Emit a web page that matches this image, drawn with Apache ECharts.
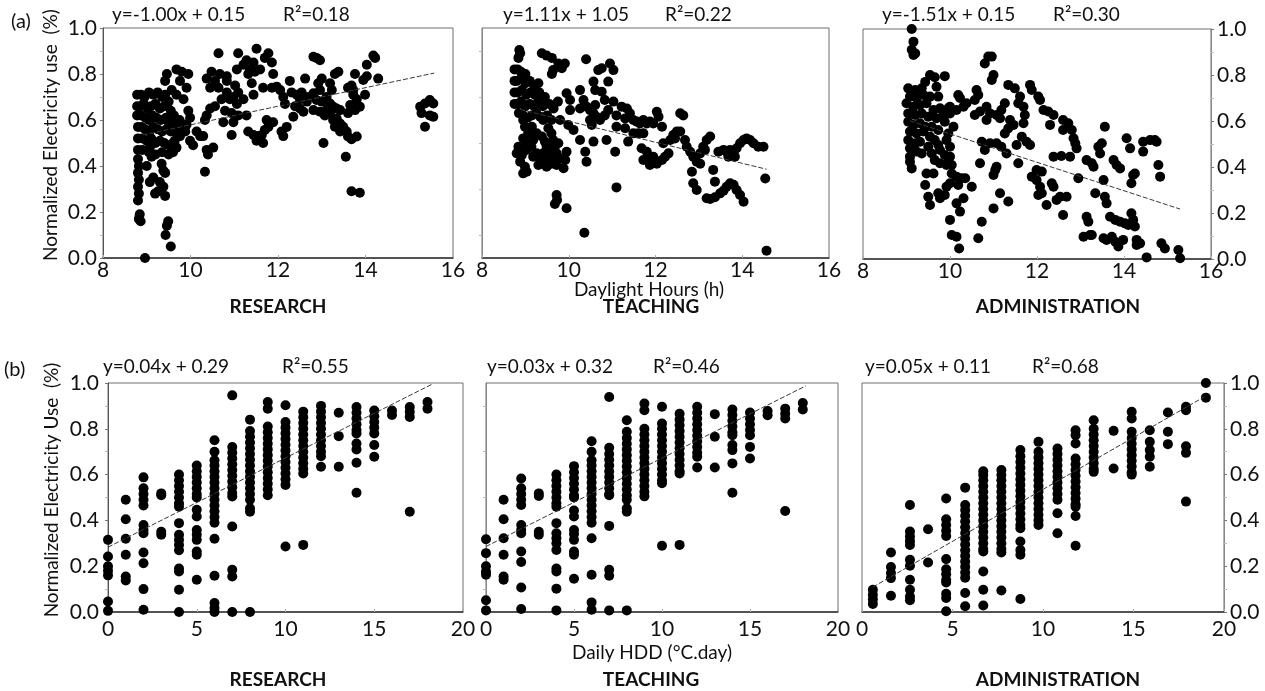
<!DOCTYPE html>
<html>
<head>
<meta charset="utf-8">
<title>Normalized electricity use</title>
<script src="https://cdn.jsdelivr.net/npm/echarts@6/dist/echarts.min.js"></script>
<style>
  html, body { margin: 0; padding: 0; background: #fff; }
  #chart { width: 1265px; height: 691px; }
</style>
</head>
<body>
<div id="chart"></div>
<script>
/**
 * SCATTER: NORMALIZED ELECTRICITY USE vs DAYLIGHT HOURS / DAILY HDD
 */

var fuente = 'Lato';
var color_punto = '#000';
var color_tendencia = '#3a3a3a';

var titulos = ['RESEARCH', 'TEACHING', 'ADMINISTRATION'];
var ecuaciones_luz = ['y=-1.00x + 0.15', 'y=1.11x + 1.05', 'y=-1.51x + 0.15'];
var r2_luz = ['R\u00b2=0.18', 'R\u00b2=0.22', 'R\u00b2=0.30'];
var ecuaciones_hdd = ['y=0.04x + 0.29', 'y=0.03x + 0.32', 'y=0.05x + 0.11'];
var r2_hdd = ['R\u00b2=0.55', 'R\u00b2=0.46', 'R\u00b2=0.68'];

/** (a) DAYLIGHT HOURS - [hours, normalized use] */
var research_luz = [
    [8.78,0.71],[8.87,0.71],[8.95,0.70],[9.05,0.72],[9.15,0.71],[9.25,0.72],[9.35,0.70],[9.42,0.71],[9.5,0.68],
    [8.78,0.66],[8.86,0.66],[8.93,0.67],[9.02,0.65],[9.1,0.66],[9.2,0.67],[9.3,0.65],[9.4,0.66],[9.55,0.64],[9.62,0.62],
    [8.78,0.62],[8.87,0.62],[8.97,0.61],[9.05,0.60],[9.13,0.62],[9.22,0.61],[9.32,0.60],[9.44,0.61],[9.5,0.59],[9.65,0.58],[9.75,0.6],[9.82,0.58],
    [8.8,0.57],[8.88,0.57],[8.96,0.56],[9.06,0.55],[9.15,0.57],[9.25,0.56],[9.35,0.55],[9.45,0.56],[9.55,0.55],[9.7,0.54],
    [8.8,0.52],[8.9,0.52],[9.0,0.51],[9.1,0.52],[9.2,0.5],[9.3,0.51],[9.4,0.5],[9.5,0.49],[9.6,0.5],[9.68,0.48],
    [8.8,0.47],[8.9,0.47],[9.05,0.46],[9.2,0.45],[9.35,0.46],[9.5,0.45],[9.6,0.46],
    [8.8,0.43],[8.82,0.40],[8.8,0.37],[8.82,0.34],[8.8,0.31],[8.82,0.28],[8.8,0.25],[8.84,0.19],[8.82,0.17],[8.86,0.16],
    [9.07,0.48],[9.11,0.44],[9.0,0.40],[9.15,0.35],[9.07,0.33],[9.19,0.28],[9.34,0.41],[9.38,0.38],[9.42,0.37],[9.30,0.33],
    [9.38,0.31],[9.42,0.27],[9.26,0.29],[9.49,0.16],[9.46,0.14],[9.43,0.10],[9.55,0.05],[8.96,0.0],
    [9.68,0.82],[9.8,0.81],[9.95,0.8],[9.46,0.8],[9.42,0.77],[9.76,0.77],[9.91,0.74],[9.57,0.73],[9.68,0.71],[9.84,0.69],
    [9.99,0.61],[9.95,0.64],[9.88,0.55],[9.76,0.53],[9.64,0.51],[9.99,0.51],[10.06,0.49],[10.22,0.53],[10.14,0.55],[10.29,0.53],
    [9.91,0.58],[9.8,0.57],
    [10.37,0.62],[10.45,0.65],[10.33,0.60],[10.52,0.48],[10.4,0.45],[10.37,0.47],[10.33,0.375],
    [10.64,0.89],[11.09,0.89],[11.51,0.91],[11.78,0.89],[11.7,0.87],[11.59,0.82],[11.21,0.84],[11.06,0.82],[11.28,0.86],
    [11.44,0.85],[11.36,0.82],[11.47,0.81],[10.48,0.81],[10.67,0.80],[10.37,0.78],[10.56,0.77],[10.83,0.77],[10.64,0.74],
    [10.45,0.74],[10.83,0.72],[10.98,0.70],[10.71,0.69],[10.56,0.66],[10.79,0.64],[11.06,0.67],[11.21,0.69],[11.44,0.71],
    [11.40,0.76],[11.66,0.74],[11.86,0.85],[11.89,0.80],[11.32,0.8],[10.94,0.63],[11.09,0.62],[11.28,0.62],[10.98,0.59],
    [10.75,0.59],[10.94,0.535],[11.32,0.55],[11.44,0.535],[11.55,0.53],[11.66,0.50],[11.51,0.51],[11.63,0.535],[10.9,0.69],
    [11.09,0.72],[11.02,0.75],[10.83,0.79],
    [11.74,0.6],[11.89,0.59],[11.78,0.57],[11.70,0.557],[12.08,0.55],[12.12,0.53],[12.2,0.57],[11.86,0.74],[11.97,0.745],
    [12.05,0.73],[12.12,0.70],[12.16,0.67],[12.27,0.77],[12.31,0.72],[12.43,0.71],[12.5,0.69],[12.39,0.66],[12.5,0.65],
    [12.62,0.78],[12.54,0.72],[12.66,0.68],[12.69,0.70],[12.58,0.636],[12.35,0.614],[12.81,0.716],[12.96,0.73],[12.88,0.687],
    [13.0,0.68],[12.81,0.643],[12.96,0.636],[13.11,0.643],[13.07,0.62],[13.19,0.63],[13.26,0.658],[13.34,0.65],[13.26,0.6],
    [13.34,0.607],[13.42,0.643],[13.38,0.81],[13.3,0.80],[13.19,0.76],[13.23,0.73],[13.11,0.70],[13.0,0.78],[12.81,0.875],
    [12.88,0.87],[12.96,0.86],[12.92,0.76],[13.19,0.672],[13.42,0.585],[13.3,0.571],[13.49,0.571],[13.57,0.55],[13.42,0.55],
    [13.6,0.528],[13.8,0.528],[13.04,0.5],[13.68,0.516],[13.55,0.44],
    [13.6,0.74],[13.68,0.75],[13.72,0.71],[13.8,0.69],[13.95,0.774],[14.03,0.79],[13.76,0.8],[14.29,0.78],[14.03,0.84],
    [14.18,0.88],[14.22,0.87],[13.99,0.71],[13.76,0.643],[13.6,0.63],[13.65,0.665],[13.8,0.665],[13.87,0.658],[13.72,0.73],
    [13.68,0.29],[13.87,0.284],
    [15.25,0.658],[15.36,0.672],[15.47,0.687],[15.55,0.672],[15.28,0.63],[15.47,0.62],[15.55,0.614],[15.36,0.571]
];

var teaching_luz = [
    [8.86,0.904],[8.88,0.89],[8.84,0.87],[9.38,0.89],[9.49,0.88],[9.61,0.87],[9.76,0.846],[9.91,0.846],[9.64,0.817],
    [9.61,0.80],[9.84,0.825],[10.4,0.864],[10.95,0.846],[11.03,0.817],[10.68,0.817],[10.76,0.825],
    [8.75,0.82],[8.82,0.82],[8.9,0.81],[9.0,0.80],
    [8.75,0.77],[8.8,0.77],[8.9,0.78],[9.0,0.76],[9.1,0.77],[9.2,0.75],[9.3,0.76],
    [8.75,0.72],[8.82,0.72],[8.92,0.73],[9.02,0.71],[9.12,0.72],[9.22,0.71],[9.32,0.72],[9.45,0.70],
    [8.75,0.67],[8.82,0.67],[8.9,0.68],[9.0,0.66],[9.1,0.67],[9.2,0.66],[9.3,0.68],[9.4,0.66],[9.55,0.67],[9.65,0.65],[9.75,0.68],
    [8.85,0.63],[8.95,0.62],[9.05,0.61],[9.15,0.62],[9.25,0.63],[9.4,0.61],[9.5,0.62],[9.6,0.6],[9.8,0.6],[9.3,0.694],
    [8.95,0.6],[8.99,0.571],[9.07,0.542],[8.95,0.52],[9.03,0.5],[9.18,0.513],[9.38,0.528],[9.45,0.506],[9.49,0.484],
    [9.57,0.462],[9.68,0.484],[9.72,0.455],[9.64,0.44],[9.8,0.433],[8.84,0.484],[8.8,0.455],[8.92,0.448],[8.88,0.419],
    [8.99,0.397],[8.95,0.368],[9.03,0.375],[9.18,0.44],[9.26,0.455],[9.34,0.433],[9.41,0.455],[9.49,0.426],[9.3,0.404],
    [9.49,0.397],[9.6,0.41],[9.72,0.404],[9.88,0.39],[9.95,0.462],[9.92,0.426],[9.07,0.55],[9.15,0.571],[9.26,0.542],
    [9.53,0.564],[9.41,0.6],[9.34,0.614],[9.03,0.47],[9.14,0.484],[9.64,0.513],[9.76,0.499],[9.6,0.542],
    [9.72,0.274],[9.73,0.252],[9.68,0.235],[9.95,0.216],[10.36,0.11],[11.1,0.307],[14.56,0.032],[14.53,0.346],
    [9.95,0.716],[10.03,0.687],[10.03,0.643],[9.99,0.578],[10.11,0.557],[10.26,0.73],[10.34,0.687],[10.26,0.65],[10.41,0.658],
    [10.49,0.643],[10.57,0.767],[10.61,0.73],[10.61,0.665],[10.57,0.629],[10.64,0.614],[10.49,0.6],[10.53,0.578],[10.72,0.6],
    [10.83,0.62],[10.91,0.643],[10.83,0.687],[11.03,0.68],[10.91,0.767],[10.76,0.723],[10.26,0.513],[10.38,0.462],[10.41,0.419],
    [10.57,0.506],[10.87,0.513],[11.07,0.462],[11.1,0.571],[11.1,0.62],[11.22,0.658],[11.3,0.607],[11.3,0.564],
    [11.34,0.65],[11.41,0.629],[11.49,0.6],[11.57,0.593],[11.64,0.585],[11.72,0.6],[11.8,0.585],[11.87,0.593],[11.95,0.585],
    [12.03,0.636],[12.07,0.614],[12.15,0.571],[11.49,0.542],[11.6,0.542],[11.72,0.542],[11.37,0.506],[11.68,0.477],[11.8,0.462],
    [11.72,0.426],[11.83,0.43],[11.95,0.44],[11.87,0.404],[12.03,0.41],[12.15,0.426],[12.22,0.44],[12.3,0.455],[12.34,0.513],
    [12.41,0.535],[12.49,0.55],[12.57,0.55],[12.57,0.629],[12.64,0.62],[12.45,0.52],[12.18,0.499],[12.68,0.513],[12.72,0.484],
    [12.8,0.462],[12.87,0.44],[12.95,0.419],[13.03,0.41],[12.84,0.375],[12.87,0.325],[12.95,0.296],[13.1,0.484],[13.18,0.513],
    [13.26,0.528],[13.14,0.47],[13.03,0.455],[13.33,0.383],[13.37,0.332],[13.18,0.26],[13.26,0.257],[13.37,0.264],[13.49,0.281],
    [13.57,0.293],[13.64,0.31],[13.72,0.325],[13.8,0.318],[13.87,0.296],[13.95,0.274],[14.03,0.245],[13.45,0.462],[13.57,0.47],
    [13.64,0.462],[13.72,0.47],[13.8,0.455],[13.87,0.477],[13.95,0.499],[14.03,0.513],[14.1,0.52],[14.18,0.513],[14.26,0.499],
    [14.37,0.484],[14.49,0.484],[13.83,0.44],[13.68,0.44]
];

var admin_luz = [
    [9.12,1.0],[9.16,0.945],[9.12,0.91],[9.2,0.894],[9.16,0.887],
    [9.54,0.8],[9.65,0.79],[9.88,0.795],[9.43,0.77],[9.69,0.749],[9.04,0.742],[9.2,0.735],[9.35,0.742],[9.08,0.706],
    [9.23,0.7],[9.39,0.713],[9.54,0.706],[9.73,0.706],[9.0,0.677],[9.16,0.662],[9.31,0.67],[9.46,0.677],[9.62,0.648],
    [9.77,0.655],[9.96,0.655],[10.0,0.633],[9.04,0.633],[9.2,0.626],[9.35,0.633],[9.5,0.619],[9.69,0.612],[9.85,0.626],
    [9.88,0.597],[9.04,0.597],[9.16,0.583],[9.31,0.59],[9.43,0.575],[9.58,0.575],[9.73,0.561],[9.08,0.554],[9.23,0.546],
    [9.39,0.554],[9.54,0.532],[9.65,0.517],[9.04,0.517],[9.2,0.503],[9.31,0.51],[9.5,0.488],[9.73,0.496],[9.08,0.481],
    [9.23,0.467],[9.35,0.459],[9.58,0.459],[9.77,0.474],[9.88,0.452],[9.08,0.445],[9.12,0.394],[9.08,0.423],[9.65,0.43],
    [9.77,0.416],[9.96,0.423],[9.92,0.409],[10.04,0.409],[10.0,0.445],[10.0,0.488],[9.92,0.517],[9.96,0.546],[10.08,0.575],
    [10.0,0.662],[10.15,0.648],
    [9.46,0.372],[9.62,0.372],[9.43,0.322],[9.5,0.271],[9.54,0.235],[9.73,0.286],[9.77,0.264],[9.88,0.278],[9.92,0.314],
    [10.0,0.329],[10.04,0.372],[10.15,0.358],[10.27,0.351],[10.35,0.351],[10.19,0.322],[10.31,0.264],[10.15,0.242],
    [10.23,0.206],[10.0,0.17],[10.04,0.104],[10.15,0.097],[10.21,0.046],[10.5,0.314],[10.65,0.09],[10.73,0.162],
    [10.61,0.735],[10.65,0.713],[10.57,0.691],[10.19,0.713],[10.23,0.7],[10.31,0.662],[10.38,0.677],[10.8,0.85],[10.88,0.88],
    [10.96,0.88],[11.0,0.8],[10.96,0.778],[10.57,0.626],[10.69,0.641],[10.84,0.662],[10.92,0.633],[11.07,0.626],[10.84,0.604],
    [11.15,0.612],[11.18,0.648],[11.26,0.677],[11.38,0.604],[11.34,0.568],[11.46,0.583],[11.26,0.546],[11.34,0.757],
    [11.49,0.742],[11.61,0.706],[11.57,0.677],[11.69,0.662],[11.72,0.626],[11.69,0.59],[11.65,0.532],[11.76,0.51],[11.84,0.496],
    [11.84,0.757],[11.88,0.735],[12.03,0.706],[12.07,0.691],[10.73,0.51],[10.8,0.474],[10.92,0.503],[11.07,0.503],[11.18,0.488],
    [11.3,0.459],[10.69,0.416],[11.07,0.401],[11.0,0.365],[11.04,0.387],[11.57,0.416],[11.15,0.286],[11.34,0.25],[11.0,0.22],
    [11.53,0.496],
    [11.99,0.387],[12.11,0.38],[11.88,0.358],[11.99,0.343],[12.07,0.314],[12.11,0.286],[12.03,0.278],[12.22,0.235],[12.34,0.329],
    [12.38,0.314],[12.45,0.257],[12.53,0.271],[12.68,0.271],[12.6,0.191],[12.15,0.648],[12.26,0.641],[12.38,0.626],[12.3,0.583],
    [12.6,0.604],[12.72,0.59],[12.8,0.561],[12.6,0.561],[12.84,0.525],[12.88,0.503],[12.91,0.481],[12.38,0.445],[12.56,0.448],
    [12.76,0.445],[12.95,0.351],[13.14,0.43],[13.26,0.416],[13.3,0.401],[13.34,0.286],[13.14,0.184],[13.18,0.162],[13.26,0.104],
    [13.41,0.488],[13.45,0.459],[13.49,0.503],[13.53,0.343],[13.56,0.575],[13.56,0.271],[13.6,0.242],[13.68,0.184],[13.76,0.43],
    [13.83,0.409],[13.91,0.394],[13.8,0.17],[13.91,0.162],[14.02,0.155],[14.1,0.148],[14.17,0.199],[14.21,0.17],[14.25,0.141],
    [14.06,0.525],[14.14,0.481],[14.21,0.365],[14.17,0.329],[14.25,0.372],[14.44,0.467],[14.44,0.51],[14.6,0.517],[14.71,0.517],
    [14.75,0.51],[14.79,0.409],[14.83,0.358],[13.53,0.09],[13.6,0.083],[13.72,0.097],[13.8,0.075],[13.87,0.054],[13.98,0.083],
    [14.29,0.083],[14.29,0.061],[14.37,0.068],[14.52,0.007],[14.86,0.068],[14.94,0.046],[15.25,0.039],[15.29,0.003],
    [13.22,0.104],[13.07,0.097]
];

/** (b) DAILY HDD - columns [HDD, [normalized use...]] */
var research_hdd = [
    [0, [0.315,0.242,0.2,0.18,0.16,0.046,0.005]],
    [1, [0.49,0.405,0.32,0.25,0.155,0.138]],
    [2, [0.588,0.54,0.515,0.49,0.465,0.38,0.358,0.344,0.26,0.213,0.1,0.01]],
    [3, [0.518,0.51,0.35,0.337]],
    [4, [0.6,0.575,0.55,0.525,0.5,0.475,0.46,0.388,0.337,0.315,0.293,0.27,0.19,0.177,0.097,0.0]],
    [5, [0.64,0.615,0.59,0.565,0.54,0.515,0.5,0.446,0.417,0.358,0.337,0.315,0.264,0.25,0.141]],
    [6, [0.75,0.7,0.663,0.64,0.615,0.59,0.565,0.54,0.515,0.49,0.465,0.44,0.415,0.39,0.32,0.158,0.039,0.017,0.0]],
    [7, [0.946,0.72,0.695,0.67,0.645,0.62,0.595,0.57,0.545,0.52,0.504,0.373,0.184,0.155,0.0]],
    [8, [0.84,0.79,0.765,0.74,0.715,0.69,0.665,0.64,0.615,0.59,0.565,0.54,0.515,0.49,0.453,0.438,0.0]],
    [9, [0.917,0.888,0.81,0.785,0.76,0.735,0.71,0.685,0.66,0.635,0.61,0.585,0.56,0.535,0.51]],
    [10, [0.903,0.83,0.805,0.78,0.755,0.73,0.705,0.68,0.655,0.63,0.605,0.58,0.555,0.286]],
    [11, [0.875,0.85,0.825,0.8,0.775,0.75,0.725,0.7,0.675,0.65,0.625,0.605,0.293]],
    [12, [0.9,0.875,0.85,0.825,0.8,0.775,0.75,0.725,0.7,0.68,0.634]],
    [13, [0.87,0.768,0.634]],
    [14, [0.895,0.87,0.845,0.82,0.795,0.78,0.736,0.71,0.652,0.521]],
    [15, [0.88,0.855,0.83,0.805,0.78,0.729,0.678]],
    [16, [0.88,0.86]],
    [17, [0.895,0.874,0.852,0.438]],
    [18, [0.917,0.888]]
];

var teaching_hdd = [
    [0, [0.318,0.257,0.2,0.177,0.163,0.051,0.007]],
    [1, [0.49,0.405,0.322,0.25,0.155,0.141]],
    [2, [0.583,0.54,0.515,0.49,0.467,0.38,0.358,0.344,0.264,0.218,0.107,0.013]],
    [3, [0.518,0.507,0.35,0.337]],
    [4, [0.6,0.575,0.55,0.525,0.5,0.475,0.46,0.388,0.344,0.322,0.3,0.271,0.19,0.177,0.102,0.007]],
    [5, [0.637,0.61,0.585,0.56,0.535,0.51,0.5,0.443,0.417,0.358,0.341,0.315,0.264,0.25,0.145]],
    [6, [0.746,0.7,0.663,0.64,0.615,0.59,0.565,0.54,0.515,0.49,0.465,0.44,0.415,0.39,0.322,0.163,0.042,0.01]],
    [7, [0.939,0.717,0.69,0.665,0.64,0.615,0.59,0.565,0.54,0.515,0.51,0.376,0.184,0.158,0.007]],
    [8, [0.837,0.787,0.76,0.735,0.71,0.685,0.66,0.635,0.61,0.585,0.56,0.535,0.51,0.49,0.453,0.438,0.007]],
    [9, [0.91,0.881,0.8,0.775,0.75,0.725,0.7,0.675,0.65,0.625,0.6,0.575,0.55,0.525,0.505]],
    [10, [0.896,0.823,0.8,0.775,0.75,0.725,0.7,0.675,0.65,0.625,0.6,0.575,0.562,0.289]],
    [11, [0.866,0.84,0.815,0.79,0.765,0.74,0.715,0.69,0.665,0.64,0.615,0.605,0.293]],
    [12, [0.896,0.87,0.845,0.82,0.795,0.77,0.745,0.72,0.695,0.678,0.631]],
    [13, [0.864,0.765,0.631]],
    [14, [0.884,0.86,0.835,0.81,0.785,0.772,0.729,0.707,0.649,0.521]],
    [15, [0.871,0.845,0.82,0.795,0.772,0.721,0.67]],
    [16, [0.878,0.859]],
    [17, [0.888,0.866,0.845,0.441]],
    [18, [0.913,0.884]]
];

var admin_hdd = [
    [0.6, [0.097,0.075,0.055,0.035]],
    [1.6, [0.26,0.196,0.17,0.148,0.071]],
    [2.65, [0.467,0.351,0.33,0.31,0.293,0.228,0.202,0.141,0.097,0.068,0.051]],
    [3.65, [0.361,0.216]],
    [4.65, [0.496,0.405,0.38,0.355,0.332,0.231,0.187,0.165,0.14,0.129,0.08,0.061,0.003]],
    [5.7, [0.543,0.467,0.445,0.42,0.395,0.37,0.345,0.32,0.295,0.27,0.245,0.22,0.197,0.172,0.15,0.083,0.025]],
    [6.7, [0.615,0.598,0.575,0.55,0.525,0.5,0.475,0.45,0.425,0.4,0.375,0.35,0.325,0.3,0.275,0.264,0.177,0.097,0.028]],
    [7.7, [0.62,0.598,0.575,0.55,0.525,0.5,0.475,0.45,0.425,0.4,0.375,0.35,0.325,0.3,0.275,0.26,0.094]],
    [8.75, [0.707,0.68,0.655,0.63,0.605,0.58,0.555,0.53,0.505,0.48,0.455,0.43,0.405,0.38,0.366,0.308,0.271,0.25,0.057]],
    [9.75, [0.743,0.7,0.675,0.65,0.625,0.6,0.575,0.55,0.525,0.5,0.475,0.45,0.425,0.4,0.38]],
    [10.8, [0.714,0.69,0.665,0.64,0.615,0.59,0.565,0.54,0.515,0.49,0.431,0.344]],
    [11.8, [0.794,0.772,0.736,0.67,0.645,0.62,0.595,0.57,0.545,0.52,0.495,0.47,0.46,0.419,0.289]],
    [12.8, [0.837,0.8,0.775,0.75,0.725,0.7,0.675,0.65,0.625,0.612]],
    [13.9, [0.791,0.627]],
    [14.9, [0.874,0.845,0.787,0.76,0.735,0.71,0.685,0.66,0.635,0.61,0.6]],
    [15.9, [0.794,0.743,0.707,0.678,0.634]],
    [16.9, [0.871,0.787,0.733]],
    [17.9, [0.896,0.881,0.724,0.695,0.482]],
    [19.0, [1.0,0.936]]
];

/** LINEAS DE TENDENCIA (extremos) */
var tendencia_research_luz = [[8.91,0.535],[15.57,0.804]];
var tendencia_teaching_luz = [[8.88,0.646],[14.56,0.386]];
var tendencia_admin_luz = [[9.08,0.601],[15.29,0.217]];
var tendencia_research_hdd = [[0,0.283],[18.24,0.994]];
var tendencia_teaching_hdd = [[0,0.286],[18.16,0.987]];
var tendencia_admin_hdd = [[0.6,0.109],[18.9,0.939]];


grafico_consumo();

function columnas_a_puntos(columnas) {
    var puntos = [];
    columnas.forEach(function(c) {
        c[1].forEach(function(v) { puntos.push([c[0], v]); });
    });
    return puntos;
}

/** GRAFICO PRINCIPAL */
function grafico_consumo() {
    var chart = echarts.init(document.getElementById('chart'), null, {renderer: 'canvas'});

    var grids = [
        {left: 103, top: 28, width: 350, height: 230},
        {left: 482, top: 28, width: 347, height: 230},
        {left: 863, top: 29, width: 348, height: 230},
        {left: 108, top: 383, width: 355, height: 229},
        {left: 486, top: 383, width: 352, height: 229},
        {left: 862, top: 383, width: 362, height: 229}
    ];

    var puntos = [
        research_luz, teaching_luz, admin_luz,
        columnas_a_puntos(research_hdd), columnas_a_puntos(teaching_hdd), columnas_a_puntos(admin_hdd)
    ];
    var tendencias = [
        tendencia_research_luz, tendencia_teaching_luz, tendencia_admin_luz,
        tendencia_research_hdd, tendencia_teaching_hdd, tendencia_admin_hdd
    ];

    var xAxis = [], yAxis = [], series = [];
    grids.forEach(function(g, i) {
        g.show = true;
        g.borderColor = '#6e6e6e';
        g.borderWidth = 1;
        g.containLabel = false;
        var arriba = i < 3;
        var col = i % 3;
        xAxis.push({
            gridIndex: i,
            type: 'value',
            min: arriba ? 8 : 0,
            max: arriba ? 16 : 20,
            interval: arriba ? 2 : 5,
            axisLine: {show: true, onZero: false, lineStyle: {color: '#333', width: 1.5}},
            axisTick: {show: true, inside: true, length: 3, lineStyle: {color: '#aaa'}},
            axisLabel: {fontFamily: fuente, fontSize: 21, color: '#111', margin: arriba ? 2 : 7},
            splitLine: {show: false}
        });
        yAxis.push({
            gridIndex: i,
            type: 'value',
            min: 0,
            max: 1,
            interval: 0.2,
            position: col === 2 ? 'right' : 'left',
            axisLine: {show: true, onZero: false, lineStyle: {color: col === 0 ? '#555' : '#888', width: 1}},
            axisTick: {show: col !== 1, length: 3, lineStyle: {color: '#777'}},
            minorTick: {show: true, splitNumber: 2, length: 3, lineStyle: {color: '#bbb'}},
            axisLabel: {
                show: col !== 1,
                fontFamily: fuente,
                fontSize: 21,
                color: '#111',
                margin: col === 2 ? 6 : (arriba ? 6 : 9),
                formatter: function(v) { return v.toFixed(1); }
            },
            splitLine: {show: false}
        });
        series.push({
            type: 'scatter',
            xAxisIndex: i,
            yAxisIndex: i,
            symbol: 'circle',
            symbolSize: 10,
            itemStyle: {color: color_punto, opacity: 1},
            silent: true,
            large: false,
            data: puntos[i]
        });
        series.push({
            type: 'line',
            xAxisIndex: i,
            yAxisIndex: i,
            symbol: 'none',
            silent: true,
            z: 3,
            lineStyle: {color: color_tendencia, width: 1, type: [5, 2]},
            data: tendencias[i]
        });
    });

    // textos libres: ecuaciones, titulos, nombres de ejes
    var graphic = [];
    function texto(t, x, y, size, opts) {
        opts = opts || {};
        graphic.push({
            type: 'text',
            x: x,
            y: y,
            rotation: opts.rot || 0,
            silent: true,
            style: {
                text: t,
                font: (opts.bold ? 'bold ' : '') + size + 'px ' + fuente,
                fill: '#111',
                align: opts.align || 'left',
                verticalAlign: 'middle'
            }
        });
    }

    var eq_x_luz = [112, 503, 882], r2_x_luz = [283, 665, 1053];
    var eq_x_hdd = [103, 487, 865], r2_x_hdd = [282, 653, 1032];
    var centro_titulo = [278, 651, 1058];
    for (var k = 0; k < 3; k++) {
        texto(ecuaciones_luz[k], eq_x_luz[k], 15, 19);
        texto(r2_luz[k], r2_x_luz[k], 15, 19);
        texto(ecuaciones_hdd[k], eq_x_hdd[k], 367, 19);
        texto(r2_hdd[k], r2_x_hdd[k], 367, 19);
        texto(titulos[k], centro_titulo[k], 307, 19, {bold: true, align: 'center'});
        texto(titulos[k], centro_titulo[k], 680, 19, {bold: true, align: 'center'});
    }
    texto('(a)', 11, 22, 20);
    texto('(b)', 4, 370, 20);
    texto('Normalized Electricity use  (%)', 51, 135, 19, {rot: Math.PI / 2, align: 'center'});
    texto('Normalized Electricity Use  (%)', 52, 490, 19, {rot: Math.PI / 2, align: 'center'});
    texto('Daylight Hours (h)', 649, 290, 19, {align: 'center'});
    texto('Daily HDD (\u00b0C.day)', 652, 653, 19, {align: 'center'});

    var option = {
        animation: false,
        backgroundColor: '#fff',
        grid: grids,
        xAxis: xAxis,
        yAxis: yAxis,
        series: series,
        graphic: graphic
    };
    chart.setOption(option);
}
</script>
</body>
</html>
